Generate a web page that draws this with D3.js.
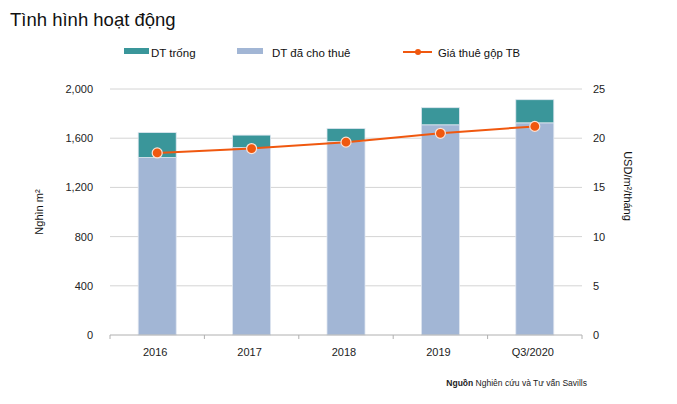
<!DOCTYPE html>
<html><head><meta charset="utf-8">
<script src="https://cdn.jsdelivr.net/npm/d3@7"></script>
<style>body{margin:0;background:#fff;}svg{display:block;font-family:"Liberation Sans",Arial,sans-serif;}</style>
</head><body>
<svg id="c" width="677" height="404"></svg>
<script>
const categories = ["2016", "2017", "2018", "2019", "Q3/2020"];
const leased = [1443, 1524, 1573, 1709, 1725];
const vacant = [203, 101, 106, 139, 188];
const rent = [18.5, 18.95, 19.6, 20.5, 21.2];
const leftTicks = [0, 400, 800, 1200, 1600, 2000];
const rightTicks = [0, 5, 10, 15, 20, 25];

const svg = d3.select("#c");
const m = {l: 110, r: 582, t: 89, b: 335};
const xb = d3.scaleBand().domain(categories).range([m.l, m.r]);
const y = d3.scaleLinear().domain([0, 2000]).range([m.b, m.t]);
const y2 = d3.scaleLinear().domain([0, 25]).range([m.b, m.t]);

// title
svg.append("text").attr("x", 10).attr("y", 26).attr("font-size", 18.5).attr("fill", "#111").text("Tình hình hoạt động");

// gridlines
svg.append("g").selectAll("line").data(leftTicks.filter(d => d > 0)).join("line")
  .attr("x1", m.l).attr("x2", m.r).attr("y1", d => y(d)).attr("y2", d => y(d))
  .attr("stroke", "#d4d4d4").attr("stroke-width", 1);

// left axis labels
const ly = d3.axisLeft(y).tickValues(leftTicks).tickSize(0).tickPadding(17).tickFormat(d3.format(","));
const gl = svg.append("g").attr("transform", `translate(${m.l},0)`).call(ly);
gl.select(".domain").remove();
gl.selectAll("text").attr("font-size", 11).attr("fill", "#222").attr("font-family", "Liberation Sans, Arial, sans-serif");

const ry = d3.axisRight(y2).tickValues(rightTicks).tickSize(0).tickPadding(11);
const gr = svg.append("g").attr("transform", `translate(${m.r},0)`).call(ry);
gr.select(".domain").remove();
gr.selectAll("text").attr("font-size", 11).attr("fill", "#222").attr("font-family", "Liberation Sans, Arial, sans-serif");

// bars
const bw = 38;
const bars = svg.append("g");
categories.forEach((c, i) => {
  const cx = xb(c) + xb.bandwidth() / 2;
  bars.append("rect").attr("x", cx - bw / 2).attr("width", bw)
    .attr("y", y(leased[i])).attr("height", y(0) - y(leased[i]))
    .attr("fill", "#a2b6d5").attr("stroke", "#dfe6f0").attr("stroke-width", 0.8);
  bars.append("rect").attr("x", cx - bw / 2).attr("width", bw)
    .attr("y", y(leased[i] + vacant[i])).attr("height", y(leased[i]) - y(leased[i] + vacant[i]))
    .attr("fill", "#3a969a").attr("stroke", "#dfe6f0").attr("stroke-width", 0.8);
});

// bottom axis
const gx = svg.append("g").attr("transform", `translate(0,${m.b})`);
gx.append("line").attr("x1", m.l).attr("x2", m.r).attr("stroke", "#b0b0b0");
gx.selectAll("line.t").data(d3.range(categories.length + 1)).join("line").attr("class", "t")
  .attr("x1", i => m.l + i * xb.step()).attr("x2", i => m.l + i * xb.step())
  .attr("y1", 0).attr("y2", 4).attr("stroke", "#b0b0b0");
gx.selectAll("text").data(categories).join("text")
  .attr("x", c => xb(c) + xb.bandwidth() / 2 - 2).attr("y", 21).attr("text-anchor", "middle")
  .attr("font-size", 11).attr("fill", "#222").text(d => d);

// line
const line = d3.line().x((d, i) => xb(categories[i]) + xb.bandwidth() / 2).y(d => y2(d));
svg.append("path").datum(rent).attr("d", line).attr("fill", "none").attr("stroke", "#f0580f").attr("stroke-width", 2);
svg.append("g").selectAll("circle").data(rent).join("circle")
  .attr("cx", (d, i) => xb(categories[i]) + xb.bandwidth() / 2).attr("cy", d => y2(d))
  .attr("r", 5).attr("fill", "#f0580f").attr("stroke", "#fbe3d6").attr("stroke-width", 1.2);

// axis titles
svg.append("text").attr("transform", "translate(43,212) rotate(-90)").attr("text-anchor", "middle")
  .attr("font-size", 11).attr("fill", "#111").text("Nghìn m²");
svg.append("text").attr("transform", "translate(624,186) rotate(90)").attr("text-anchor", "middle")
  .attr("font-size", 11).attr("fill", "#111").text("USD/m²/tháng");

// legend
const lg = svg.append("g");
lg.append("rect").attr("x", 124).attr("y", 48).attr("width", 25).attr("height", 6).attr("fill", "#3a969a");
lg.append("text").attr("x", 151).attr("y", 57).attr("font-size", 11.5).attr("fill", "#111").text("DT trống");
lg.append("rect").attr("x", 237).attr("y", 48).attr("width", 26).attr("height", 6).attr("fill", "#a2b6d5");
lg.append("text").attr("x", 272).attr("y", 57).attr("font-size", 11.5).attr("fill", "#111").text("DT đã cho thuê");
lg.append("line").attr("x1", 403).attr("x2", 432).attr("y1", 52).attr("y2", 52).attr("stroke", "#f0580f").attr("stroke-width", 2);
lg.append("circle").attr("cx", 418).attr("cy", 52).attr("r", 3).attr("fill", "#f0580f");
lg.append("text").attr("x", 438).attr("y", 57).attr("font-size", 11.3).attr("fill", "#111").text("Giá thuê gộp TB");

// source
const src = svg.append("text").attr("x", 587).attr("y", 386).attr("text-anchor", "end").attr("font-size", 8.5).attr("fill", "#222");
src.append("tspan").attr("font-weight", "bold").text("Nguồn");
src.append("tspan").text(" Nghiên cứu và Tư vấn Savills");
</script>
</body></html>
